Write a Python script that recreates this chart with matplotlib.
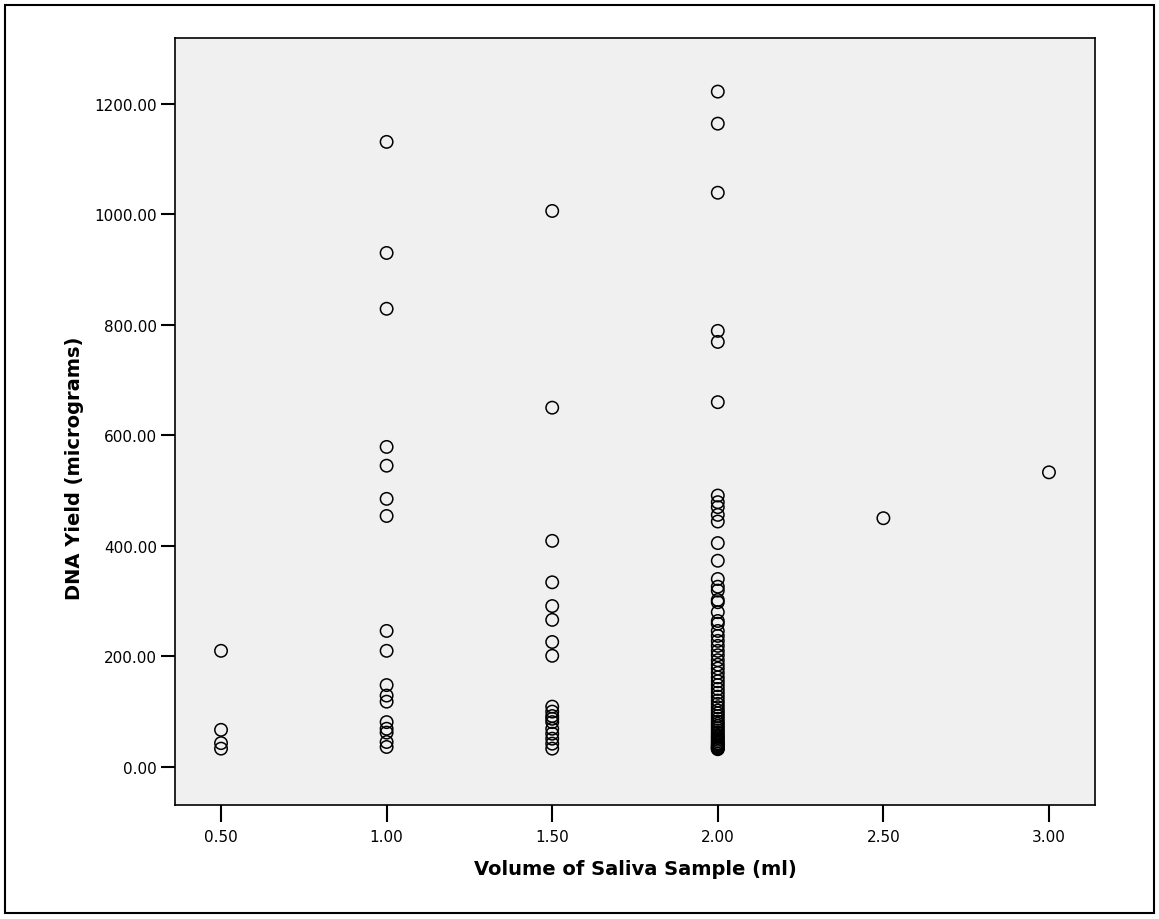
import matplotlib
matplotlib.use("Agg")
import matplotlib.pyplot as plt
from matplotlib.patches import Rectangle
from matplotlib.ticker import FormatStrFormatter

plt.rcParams['font.family'] = ['DejaVu Sans']

# DNA yield (micrograms) grouped by saliva sample volume (ml)
volumes = [0.5, 1.0, 1.5, 2.0, 2.5, 3.0]
yield_05 = [210, 67, 43, 33]
yield_10 = [1131, 930, 829, 579, 545, 485, 454, 246, 210, 148, 129, 118,
            81, 69, 62, 45, 36]
yield_15 = [1006, 650, 409, 334, 291, 266, 226, 201, 109, 100, 92, 87,
            81, 69, 60, 51, 42, 33]
yield_20 = [1222, 1164, 1039, 789, 769, 660, 491, 479, 470, 456, 444, 405,
            373, 340, 326, 319, 302, 298, 280, 264, 259, 246, 237, 228,
            219, 210, 202, 193, 185, 178, 170, 162, 155, 148, 141, 134,
            127, 120, 114, 108, 102, 97, 92, 87, 82, 78, 74, 70, 66, 62,
            58, 55, 52, 49, 46, 43, 41, 39, 37, 35, 34, 33, 32]
yield_25 = [450]
yield_30 = [533]
yields = [yield_05, yield_10, yield_15, yield_20, yield_25, yield_30]

x_ticks = [0.5, 1.0, 1.5, 2.0, 2.5, 3.0]
y_ticks = [0, 200, 400, 600, 800, 1000, 1200]

W, H = 1159, 920
fig = plt.figure(figsize=(W / 100, H / 100), dpi=100)

# outer chart frame
fig.patches.append(Rectangle((5 / W, 6 / H), 1149 / W, 908 / H,
                             transform=fig.transFigure, fill=False,
                             edgecolor='black', linewidth=1.5))

left, right, top, bottom = 175, 1095, 39, 806
ax = fig.add_axes([left / W, 1 - bottom / H, (right - left) / W, (bottom - top) / H])
ax.set_facecolor('#F0F0F0')

for v, ys in zip(volumes, yields):
    ax.scatter([v] * len(ys), ys, s=80, facecolors='none',
               edgecolors='black', linewidths=1.1, zorder=3)

ax.set_xlim(0.361, 3.139)
ax.set_ylim(-69, 1319)
ax.set_xticks(x_ticks)
ax.set_yticks(y_ticks)
ax.xaxis.set_major_formatter(FormatStrFormatter('%.2f'))
ax.yaxis.set_major_formatter(FormatStrFormatter('%.2f'))
ax.tick_params(axis='x', direction='out', length=12, width=1.5, labelsize=11, pad=5)
ax.tick_params(axis='y', direction='out', length=10, width=1.5, labelsize=11, pad=3)
for s in ax.spines.values():
    s.set_linewidth(1.2)

ax.set_xlabel('Volume of Saliva Sample (ml)', fontsize=14, fontweight='bold')
ax.set_ylabel('DNA Yield (micrograms)', fontsize=14, fontweight='bold')
ax.xaxis.set_label_coords(0.5, -0.071)
ax.yaxis.set_label_coords(-0.099, 0.44)

fig.savefig('out.png', dpi=100)
